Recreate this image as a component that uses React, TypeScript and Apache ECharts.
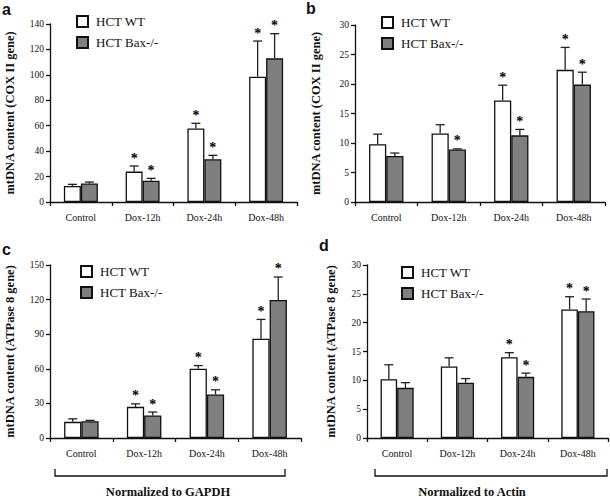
import React, { useEffect, useRef } from 'react';
import * as echarts from 'echarts';

const categories = ['Control', 'Dox-12h', 'Dox-24h', 'Dox-48h'];
const seriesNames = ['HCT WT', 'HCT Bax-/-'];

// Panel a: COX II / GAPDH
const aWT = [12.6, 23.9, 57.9, 98.6];
const aWTErr = [1.3, 4.4, 4.0, 28.0];
const aWTSig = [0, 1, 1, 1];
const aBax = [14.5, 16.8, 33.6, 113];
const aBaxErr = [1.2, 1.8, 3.1, 19.4];
const aBaxSig = [0, 1, 1, 1];

// Panel b: COX II / Actin
const bWT = [9.8, 11.6, 17.2, 22.4];
const bWTErr = [1.7, 1.5, 2.6, 3.8];
const bWTSig = [0, 0, 1, 1];
const bBax = [7.8, 8.9, 11.3, 19.9];
const bBaxErr = [0.5, 0.1, 1.0, 2.1];
const bBaxSig = [0, 1, 1, 1];

// Panel c: ATPase 8 / GAPDH
const cWT = [14.0, 27.0, 60.0, 86.0];
const cWTErr = [2.6, 2.6, 2.8, 16.8];
const cWTSig = [0, 1, 1, 1];
const cBax = [14.5, 19.5, 37.8, 119.6];
const cBaxErr = [0.8, 3.0, 4.0, 20.0];
const cBaxSig = [0, 1, 1, 1];

// Panel d: ATPase 8 / Actin
const dWT = [10.2, 12.4, 14.0, 22.3];
const dWTErr = [2.5, 1.5, 0.8, 2.2];
const dWTSig = [0, 0, 1, 1];
const dBax = [8.7, 9.6, 10.6, 22.0];
const dBaxErr = [0.9, 0.7, 0.65, 2.1];
const dBaxSig = [0, 0, 1, 1];

const yMax = [140, 30, 150, 30];
const yInterval = [20, 5, 30, 5];
const yTitles = [
  'mtDNA content (COX II gene)',
  'mtDNA content (COX II gene)',
  'mtDNA content (ATPase 8 gene)',
  'mtDNA content (ATPase 8 gene)',
];
const panelLetters = ['a', 'b', 'c', 'd'];
const normLabels = ['Normalized to GAPDH', 'Normalized to Actin'];

const panelData = [
  { wt: aWT, wtErr: aWTErr, wtSig: aWTSig, bax: aBax, baxErr: aBaxErr, baxSig: aBaxSig },
  { wt: bWT, wtErr: bWTErr, wtSig: bWTSig, bax: bBax, baxErr: bBaxErr, baxSig: bBaxSig },
  { wt: cWT, wtErr: cWTErr, wtSig: cWTSig, bax: cBax, baxErr: cBaxErr, baxSig: cBaxSig },
  { wt: dWT, wtErr: dWTErr, wtSig: dWTSig, bax: dBax, baxErr: dBaxErr, baxSig: dBaxSig },
];

// layout (pixels)
const grids = [
  { left: 50, top: 24, width: 247, height: 178 },
  { left: 355, top: 25, width: 250, height: 177 },
  { left: 50, top: 265, width: 251, height: 173 },
  { left: 367, top: 265, width: 241, height: 173 },
];
const nameGaps = [34, 33, 34, 30];
const legendPos = [
  { left: 76, top: 15 },
  { left: 381, top: 16 },
  { left: 80, top: 265 },
  { left: 401, top: 266 },
];
const letterPos = [
  [2, 1],
  [306, 0],
  [2, 241],
  [319, 237],
];

const SERIF = '"Liberation Serif", "Times New Roman", serif';
const SANS = '"Liberation Sans", Arial, sans-serif';
const GAP = 0.45;
const INK = '#111111';

function buildOption() {
  const series: any[] = [];
  const xAxis: any[] = [];
  const yAxis: any[] = [];
  const legend: any[] = [];
  const grid: any[] = [];

  panelData.forEach((p, i) => {
    grid.push({ ...grids[i], containLabel: false });
    xAxis.push({
      type: 'category',
      gridIndex: i,
      data: categories,
      boundaryGap: true,
      axisLine: { lineStyle: { color: INK, width: 1.3 } },
      axisTick: { show: true, length: 4, alignWithLabel: false, interval: 0, lineStyle: { color: INK, width: 1.3 } },
      axisLabel: { fontFamily: SERIF, fontSize: 10, color: INK, margin: 10, interval: 0 },
      splitLine: { show: false },
    });
    yAxis.push({
      type: 'value',
      gridIndex: i,
      min: 0,
      max: yMax[i],
      interval: yInterval[i],
      axisLine: { show: true, lineStyle: { color: INK, width: 1.3 } },
      axisTick: { show: true, length: 4, lineStyle: { color: INK, width: 1.3 } },
      axisLabel: { fontFamily: SERIF, fontSize: 9.5, color: INK, margin: 6 },
      splitLine: { show: false },
      name: yTitles[i],
      nameLocation: 'middle',
      nameGap: nameGaps[i],
      nameTextStyle: { fontFamily: SERIF, fontSize: 12.5, fontWeight: 'bold', color: INK },
    });
    legend.push({
      orient: 'vertical',
      ...legendPos[i],
      padding: 0,
      itemWidth: 11,
      itemHeight: 11,
      itemGap: 8,
      icon: 'rect',
      textStyle: { fontFamily: SERIF, fontSize: 13, color: INK, padding: [0, 0, 0, 3] },
      data: seriesNames,
      selectedMode: false,
    });
    const barStyle = (fill: string) => ({ color: fill, borderColor: INK, borderWidth: 1.3 });
    series.push({
      type: 'bar',
      name: seriesNames[0],
      xAxisIndex: i,
      yAxisIndex: i,
      data: p.wt,
      barGap: '0%',
      barCategoryGap: GAP * 100 + '%',
      itemStyle: barStyle('#ffffff'),
    });
    series.push({
      type: 'bar',
      name: seriesNames[1],
      xAxisIndex: i,
      yAxisIndex: i,
      data: p.bax,
      barGap: '0%',
      barCategoryGap: GAP * 100 + '%',
      itemStyle: barStyle('#7f7f7f'),
    });
    const errData: any[] = [];
    categories.forEach((_, k) => {
      errData.push([k, p.wt[k], p.wt[k] + p.wtErr[k], p.wtSig[k], -1]);
      errData.push([k, p.bax[k], p.bax[k] + p.baxErr[k], p.baxSig[k], 1]);
    });
    series.push({
      type: 'custom',
      name: 'err' + i,
      colorBy: 'series',
      xAxisIndex: i,
      yAxisIndex: i,
      data: errData,
      encode: { x: 0, y: 1 },
      clip: false,
      z: 5,
      itemStyle: { color: INK },
      renderItem: (params: any, api: any) => {
        const k = api.value(0);
        const v = api.value(1);
        const top = api.value(2);
        const sig = api.value(3);
        const side = api.value(4);
        const band = api.size([1, 0])[0];
        const bw = (band * (1 - GAP)) / 2;
        const c0 = api.coord([k, v]);
        const c1 = api.coord([k, top]);
        const x = c0[0] + (side * bw) / 2;
        const children: any[] = [
          { type: 'line', shape: { x1: x, y1: c0[1], x2: x, y2: c1[1] }, style: { stroke: '#222', lineWidth: 1.3 } },
          { type: 'line', shape: { x1: x - 4.5, y1: c1[1], x2: x + 4.5, y2: c1[1] }, style: { stroke: '#222', lineWidth: 1.3 } },
        ];
        if (sig) {
          children.push({
            type: 'text',
            x: x,
            y: c1[1] - 1,
            style: { text: '*', font: 'bold 14px ' + SERIF, fill: '#000000', align: 'center', verticalAlign: 'bottom' },
          });
        }
        return { type: 'group', children };
      },
    });
  });

  const graphic: any[] = [];
  panelLetters.forEach((l, i) => {
    graphic.push({
      type: 'text',
      left: letterPos[i][0],
      top: letterPos[i][1],
      style: { text: l, font: 'bold 16px ' + SANS, fill: INK },
    });
  });
  graphic.push({
    type: 'polyline',
    shape: { points: [[55, 469], [55, 476], [285, 476], [285, 469]] },
    style: { stroke: INK, lineWidth: 1.3, fill: 'none' },
  });
  graphic.push({
    type: 'polyline',
    shape: { points: [[375, 469], [375, 476], [607, 476], [607, 469]] },
    style: { stroke: INK, lineWidth: 1.3, fill: 'none' },
  });
  graphic.push({
    type: 'text',
    x: 168,
    y: 492,
    style: { text: normLabels[0], font: 'bold 12.5px ' + SERIF, fill: INK, align: 'center', verticalAlign: 'middle' },
  });
  graphic.push({
    type: 'text',
    x: 472,
    y: 492,
    style: { text: normLabels[1], font: 'bold 12.5px ' + SERIF, fill: INK, align: 'center', verticalAlign: 'middle' },
  });

  return {
    animation: false,
    backgroundColor: '#ffffff',
    color: [INK],
    grid,
    xAxis,
    yAxis,
    legend,
    series,
    graphic,
  };
}

export default function App() {
  const ref = useRef<HTMLDivElement>(null);
  useEffect(() => {
    const chart = echarts.init(ref.current!, null, { renderer: 'svg' });
    chart.setOption(buildOption() as any);
    return () => chart.dispose();
  }, []);
  return <div ref={ref} style={{ position: 'fixed', left: 0, top: 0, width: 610, height: 498 }} />;
}
